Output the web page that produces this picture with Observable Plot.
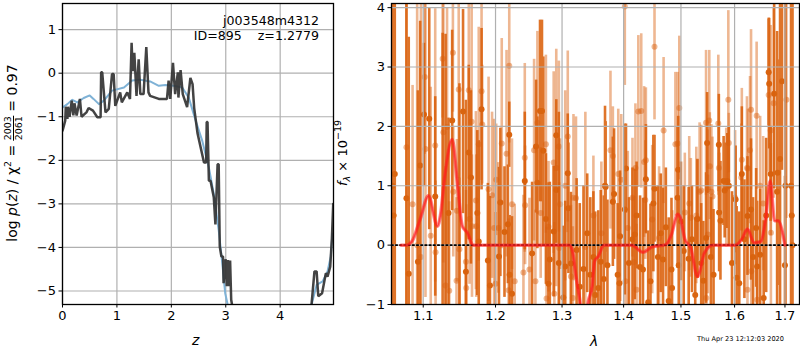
<!DOCTYPE html>
<html><head><meta charset="utf-8">
<script src="https://cdn.jsdelivr.net/npm/d3@7"></script>
<script src="https://cdn.jsdelivr.net/npm/@observablehq/plot@0.6"></script>
<style>
html,body{margin:0;padding:0;background:#fff;width:800px;height:350px;overflow:hidden;font-family:"DejaVu Sans",sans-serif;color:#000}
#c{position:relative;width:800px;height:350px}
#c>div.p{position:absolute;top:0}
svg{display:block;overflow:visible}
.t{position:absolute;white-space:nowrap;line-height:1}
.frac{display:inline-block;vertical-align:middle;text-align:center;font-size:9.5px;line-height:9.5px}
.frac span{display:block}.frac span:first-child{border-bottom:1px solid #000}
</style></head><body><div id="c"></div>
<script>
// p(z) panel: [z, log p(z)]
const pzModel=[[.01,-.78],[.09,-.71],[.18,-.61],[.27,-.67],[.39,-.57],[.5,-.51],[.57,-.59],[.67,-.71],[.76,-.63],[.91,-.4],[1.13,-.33],[1.28,-.17],[1.43,-.15],[1.61,-.19],[1.77,-.29],[1.89,-.27],[2.04,-.29],[2.2,-.33],[2.32,-.56],[2.45,-1.1],[2.57,-1.56],[2.69,-2.17],[2.78,-2.77],[2.87,-3.6],[2.93,-4.29],[2.99,-5.05],[3.05,-5.4],[3.3,-7],[4.4,-7],[4.56,-5.4],[4.6,-5.2],[4.67,-4.86],[4.78,-4.78],[4.87,-4.55],[4.93,-4.21],[4.96,-3.68]];
const pzFit=[[0,-1.32],[.01,-1.28],[.05,-1.09],[.06,-.77],[.09,-1.05],[.1,-.77],[.13,-1],[.17,-.63],[.2,-.97],[.22,-.69],[.26,-.97],[.32,-.59],[.35,-1],[.44,-.9],[.48,-.8],[.56,-.86],[.64,-1.01],[.7,-1.01],[.71,.02],[.73,.02],[.79,-.9],[.85,-.82],[.91,-.02],[.94,-.02],[.97,-.75],[1.06,-.44],[1.09,-.67],[1.19,-.44],[1.24,-.59],[1.27,.7],[1.29,.05],[1.32,.47],[1.36,-.52],[1.4,.32],[1.43,-.48],[1.49,-.48],[1.54,.6],[1.58,-.44],[1.61,-.52],[1.77,-.59],[1.92,-.59],[1.95,-.17],[1.98,-.59],[2.03,.24],[2.07,-.48],[2.12,.02],[2.13,-.56],[2.17,.07],[2.21,-.48],[2.29,-.78],[2.35,-.11],[2.39,-.25],[2.42,-.8],[2.48,-1.37],[2.6,-2.05],[2.64,-2.05],[2.65,-1.12],[2.665,-1.12],[2.69,-2.47],[2.72,-2.47],[2.78,-2.85],[2.81,-3.47],[2.85,-2.09],[2.87,-2.09],[2.89,-3.98],[2.92,-4.21],[2.95,-4.21],[2.96,-4.82],[3,-4.27],[3.02,-4.89],[3.04,-4.29],[3.06,-4.89],[3.08,-4.3],[3.1,-5.2],[3.14,-5.5],[3.4,-7],[4.4,-7],[4.57,-5.4],[4.63,-4.55],[4.67,-4.55],[4.7,-5.12],[4.77,-5.05],[4.84,-4.59],[4.87,-4.67],[4.92,-4.44],[4.95,-3.8],[4.975,-3]];
// spectrum panel: [wavelength, flux, error]
const darkBars=[[1.06,1,6],[1.0615,.5,6],[1.063,1.2,6],[1.078,.79,4],[1.081,-.48,3.98],[1.093,-.28,2.88],[1.096,1.34,2.43],[1.101,2.2,1.2],[1.108,2.13,1.87],[1.116,.82,1.68],[1.126,-1.2,4.77],[1.13,-1.3,4.85],[1.134,.54,1.6],[1.139,2.1,1.52],[1.149,-1.1,3.82],[1.154,2.25,1.72],[1.158,-.45,2.89],[1.162,1.56,1.47],[1.165,1.14,1.46],[1.174,.54,1.39],[1.176,.06,1.7],[1.18,2.29,1.36],[1.189,-.26,1.3],[1.192,-.68,1.5],[1.205,-.19,1.5],[1.207,.72,1.25],[1.213,.22,1.1],[1.218,.35,1],[1.22,1.86,.55],[1.2205,-.5,1],[1.224,-.82,1.3],[1.243,1.08,1.16],[1.254,-.14,1.2],[1.26,1.66,1.12],[1.262,1.05,1.11],[1.266,2.26,1.53],[1.269,2.26,1.53],[1.271,1.59,1.58],[1.275,.44,1.1],[1.279,-.65,1.7],[1.281,-.24,1.3],[1.287,.23,1.1],[1.291,1.85,.6],[1.291,.93,.9],[1.295,-.3,2.54],[1.302,-.88,1.2],[1.305,-.36,1.1],[1.309,1.21,1],[1.31,.62,1.1],[1.314,-.31,1.2],[1.323,-.08,1.2],[1.328,-.7,1.4],[1.334,-.4,1.4],[1.34,.2,1],[1.345,-.5,1.3],[1.35,-.2,1.1],[1.353,-.84,1.4],[1.358,-.72,1.3],[1.362,-.28,1.2],[1.367,-.57,1.4],[1.369,1,1.34],[1.37,.98,1.1],[1.373,-.34,1.1],[1.382,.73,1.09],[1.384,.86,1.1],[1.39,-.5,1.2],[1.393,-.64,1.3],[1.394,.15,1.1],[1.402,.6,1.44],[1.404,1.29,.75],[1.409,-.3,1.1],[1.415,.1,1.2],[1.419,.18,1.1],[1.422,.5,.9],[1.428,-.37,1.2],[1.433,-.41,1.2],[1.438,1.11,.92],[1.442,-.96,1.2],[1.446,-.61,1.3],[1.451,.7,1.15],[1.453,.95,.9],[1.459,-.2,1.2],[1.464,.2,1],[1.468,-.24,1.2],[1.473,.3,1],[1.478,-.94,1.4],[1.483,-.41,1.2],[1.484,-.72,1.3],[1.494,.8,1.19],[1.495,1.27,.9],[1.496,-.34,1.1],[1.5,.4,1],[1.505,-.1,1.1],[1.514,-.23,1.2],[1.52,.1,.9],[1.526,-.84,1.3],[1.53,.44,1],[1.537,-.3,1],[1.541,-.6,1],[1.546,.12,1.1],[1.548,1.72,.85],[1.555,-.2,1],[1.56,-.5,1.1],[1.57,1.69,.85],[1.5705,.55,1],[1.573,.41,1],[1.579,1.08,.75],[1.581,.92,.8],[1.586,1.08,.8],[1.589,1,1],[1.595,-.3,1.2],[1.602,.77,.9],[1.604,-.55,1.2],[1.609,-.64,1.2],[1.614,1.2,1.13],[1.619,.1,1],[1.625,.49,1],[1.632,.6,1.19],[1.636,-.2,1],[1.642,.29,1],[1.644,-.36,1.1],[1.65,-.16,1.1],[1.657,-.89,1.3],[1.662,.5,1.3],[1.667,2.91,.9],[1.668,2.72,1.1],[1.671,1.2,.8],[1.678,2.55,1.6],[1.684,.9,2.7],[1.685,1.22,1.9],[1.69,1.45,2.7],[1.694,2.76,1.5],[1.7,-.34,1.5],[1.701,1,4],[1.7125,1,5],[1.714,.5,5],[1.7155,0,5]];
const lightBars=[[1.078,1.65,3],[1.086,.69,2],[1.092,0,4.2],[1.097,-.2,4.4],[1.102,2.83,1.3],[1.103,1.62,2.5],[1.11,.16,2.5],[1.116,1.68,2.3],[1.1165,-.12,1.2],[1.126,3.14,1],[1.127,1.9,2.2],[1.13,-.68,2],[1.132,1.99,2],[1.135,-.77,1.5],[1.14,3.24,1],[1.1405,.9,1.1],[1.145,-.6,1.4],[1.1455,.58,1.2],[1.148,2.62,1.5],[1.149,-.07,1.2],[1.158,-.28,1.2],[1.1585,-.72,1.4],[1.162,2.61,1.5],[1.163,.44,1.1],[1.166,2.08,2],[1.1665,.32,1.2],[1.172,.75,1.5],[1.1725,.32,1.2],[1.176,1.7,1.97],[1.18,2.59,1.5],[1.181,2.03,1],[1.19,.94,1.89],[1.195,.84,1.4],[1.198,.29,1.83],[1.201,1.1,.94],[1.2,-.65,1.2],[1.204,.29,1.1],[1.209,1.71,1.77],[1.216,1.54,1.74],[1.219,-.76,1.2],[1.22,3.02,1.3],[1.224,.69,1.1],[1.228,-.61,1.3],[1.241,-.46,1.3],[1.243,1.47,1.59],[1.2435,.67,1],[1.25,-.41,1.2],[1.257,1.6,1.53],[1.259,-.61,1.2],[1.262,2.06,1.54],[1.267,.54,1.1],[1.275,1.7,1.5],[1.276,-.9,1.2],[1.279,.31,1.1],[1.287,1.39,1.53],[1.288,-.82,1.2],[1.291,1.3,2],[1.295,1.66,1.44],[1.2955,-.05,1.1],[1.297,.69,1.1],[1.305,1,1.6],[1.309,1.83,1.44],[1.314,-.53,1.2],[1.317,-.89,1.2],[1.318,.8,1.4],[1.322,.79,1.37],[1.337,-.03,2.27],[1.35,.5,1],[1.363,.2,1.2],[1.378,1.6,1.33],[1.382,1.5,.83],[1.391,1.2,1.09],[1.396,1.1,1.1],[1.402,4.02,1.33],[1.403,-.61,1.2],[1.407,.29,1.29],[1.415,.8,1],[1.417,-.29,1.1],[1.42,1.3,1.08],[1.422,-.75,1.1],[1.425,2.25,1.28],[1.43,2.26,1.3],[1.435,1.4,1.27],[1.437,.76,1],[1.438,1.43,1.22],[1.449,.43,1.25],[1.453,3.34,1.23],[1.461,.12,1.2],[1.469,1.93,1.23],[1.49,1.7,1.21],[1.494,1.71,1.2],[1.497,2.31,1.21],[1.507,.55,1],[1.515,.7,1.13],[1.518,.46,1],[1.528,.5,1.15],[1.53,.45,1],[1.534,.9,1.16],[1.537,.92,1.1],[1.546,2.06,1.22],[1.5465,-.89,1],[1.549,.94,1],[1.5495,.18,1],[1.552,2.1,1.18],[1.553,1.33,.9],[1.556,.9,1.13],[1.558,.82,1],[1.569,2.05,1.15],[1.57,1.3,.7],[1.584,.97,1],[1.588,2.45,1.5],[1.589,1.72,.5],[1.601,.8,1.13],[1.613,1.14,.9],[1.614,1.44,1.2],[1.624,1.3,1.2],[1.625,-.75,1],[1.626,1.29,1],[1.63,1.6,1.24],[1.632,2.28,1.35],[1.6325,-.44,1],[1.643,2.18,1.24],[1.644,-.92,1],[1.65,1,1.17],[1.656,.7,1.13],[1.667,2.53,1.3],[1.671,1.93,1.77],[1.6715,.21,1.5],[1.677,2.39,1.6],[1.703,2.45,2]];
const model=[[1.071,0],[1.078,0],[1.085,.06],[1.096,.44],[1.107,.83],[1.119,.32],[1.123,.5],[1.129,1.17],[1.139,1.78],[1.146,1.06],[1.153,.32],[1.16,.21],[1.168,0],[1.312,0],[1.317,-.13],[1.322,-.53],[1.329,-1],[1.334,-1.5],[1.338,-1.5],[1.341,-1],[1.348,-.69],[1.352,-.27],[1.358,-.19],[1.367,0],[1.414,0],[1.433,-.12],[1.449,-.03],[1.473,.01],[1.483,.18],[1.494,.52],[1.499,.46],[1.507,.1],[1.518,-.05],[1.53,-.53],[1.543,-.13],[1.558,0],[1.601,0],[1.614,.1],[1.625,.27],[1.638,.04],[1.651,.06],[1.661,.44],[1.67,1.08],[1.679,.41],[1.686,.41],[1.7,0]];
const zero=[[1.0588,0],[1.73,0]];
const zTicks=[0,1,2,3,4], pTicks=[-5,-4,-3,-2,-1,0,1];
const lamTicks=[1.1,1.2,1.3,1.4,1.5,1.6,1.7], fTicks=[-1,0,1,2,3,4];

const minus=d=>String(d).replace("-","\u2212");
const grid="#b0b0b0";
const style={fontFamily:"DejaVu Sans",fontSize:"13px",color:"#000",background:"transparent",overflow:"visible"};
const place=(el,left)=>{const d=document.createElement("div");d.className="p";d.style.left=left+"px";d.append(el);document.getElementById("c").append(d)};

place(Plot.plot({
  width:345,height:350,marginLeft:62,marginRight:12,marginTop:3,marginBottom:46,style,
  x:{domain:[0,4.98]},y:{domain:[-5.31,1.6]},
  marks:[
    Plot.gridX(zTicks,{stroke:grid,strokeOpacity:1,strokeWidth:1.2}),
    Plot.gridY(pTicks,{stroke:grid,strokeOpacity:1,strokeWidth:1.2}),
    Plot.line(pzModel,{x:d=>d[0],y:d=>d[1],stroke:"#7fb2d6",strokeWidth:2,clip:true}),
    Plot.line(pzFit,{x:d=>d[0],y:d=>d[1],stroke:"#333",strokeOpacity:.92,strokeWidth:2.5,clip:true,strokeLinejoin:"miter"}),
    Plot.axisX({ticks:zTicks,tickSize:3.5,tickPadding:3,tickFormat:String,label:null,stroke:"#000"}),
    Plot.axisY({ticks:pTicks,tickSize:3.5,tickPadding:3,tickFormat:minus,label:null,stroke:"#000"}),
    Plot.frame({stroke:"#000",strokeWidth:1.3})
  ]
}),0);

const bars=(rows,barColor,dotColor,op)=>[
  Plot.ruleX(rows,{x:d=>d[0],y1:d=>d[1]-d[2],y2:d=>d[1]+d[2],stroke:barColor,strokeOpacity:op,strokeWidth:2.6,clip:true}),
  Plot.dot(rows,{x:d=>d[0],y:d=>d[1],r:3,fill:dotColor,fillOpacity:op,stroke:"none",clip:true})
];
place(Plot.plot({
  width:455,height:350,marginLeft:46,marginRight:1,marginTop:3,marginBottom:46,style,
  x:{type:"log",domain:[1.0588,1.73]},y:{domain:[-1,4.07]},
  marks:[
    ...bars(darkBars,"#df7429","#d96510",1),
    ...bars(lightBars,"#d95f0e","#d95f0e",.45),
    Plot.gridX(lamTicks,{stroke:grid,strokeOpacity:1,strokeWidth:1.2}),
    Plot.gridY(fTicks,{stroke:grid,strokeOpacity:1,strokeWidth:1.2}),
    Plot.line(zero,{x:d=>d[0],y:d=>d[1],stroke:"#000",strokeWidth:1.6,strokeDasharray:"1.6,2.6"}),
    Plot.line(model,{x:d=>d[0],y:d=>d[1],stroke:"#ff1a1a",strokeOpacity:.55,strokeWidth:3.5,curve:"monotone-x",clip:true}),
    Plot.line(model,{x:d=>d[0],y:d=>d[1],stroke:"#ff1a1a",strokeOpacity:.6,strokeWidth:1.5,curve:"monotone-x",clip:true}),
    Plot.axisX({ticks:lamTicks,tickSize:3.5,tickPadding:3,tickFormat:d=>d.toFixed(1),label:null,stroke:"#000"}),
    Plot.axisY({ticks:fTicks,tickSize:3.5,tickPadding:3,tickFormat:minus,label:null,stroke:"#000"}),
    Plot.frame({stroke:"#000",strokeWidth:1.3})
  ]
}),345);

const c=document.getElementById("c");
const lab=(html,css)=>{const d=document.createElement("div");d.className="t";d.innerHTML=html;d.style.cssText=css;c.append(d)};
lab("j003548m4312","right:481px;top:15px;font-size:12.6px");
lab("ID=895 &nbsp;&nbsp; z=1.2779","right:481px;top:30px;font-size:12.6px");
lab("<i>z</i>","left:192px;top:333px;font-size:14px");
lab("<i>λ</i>","left:590px;top:334px;font-size:14px");
lab("Thu Apr 23 12:12:03 2020","left:697px;top:336px;font-size:6.6px");
lab('log <i>p</i>(<i>z</i>) / χ<sup style="font-size:9.5px;line-height:0">2</sup> = <span class="frac"><span>2003</span><span>2061</span></span> = 0.97',
    "left:13px;top:153px;font-size:14px;transform:translate(-50%,-50%) rotate(-90deg)");
lab('<i>f</i><sub style="font-size:9.5px;line-height:0"><i>λ</i></sub> × 10<sup style="font-size:9.5px;line-height:0">−19</sup>',
    "left:342px;top:153px;font-size:13px;transform:translate(-50%,-50%) rotate(-90deg)");
</script></body></html>
